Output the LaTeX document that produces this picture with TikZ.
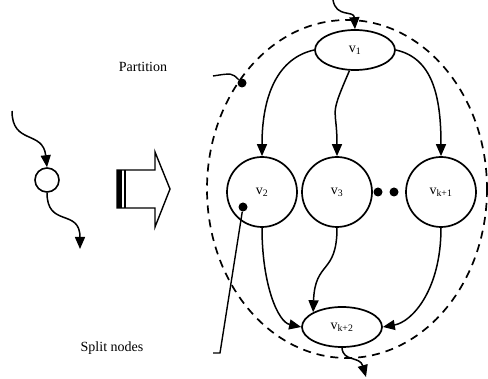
\documentclass[tikz,border=0pt]{standalone}
\usepackage{fontspec}
\setmainfont{Liberation Serif}
\usetikzlibrary{arrows.meta,shapes.geometric}
\begin{document}
\begin{tikzpicture}[x=1pt,y=-1pt,
  vert/.style={draw,circle,line width=1.7pt,minimum size=70pt,inner sep=0pt,font=\fontsize{14}{16}\selectfont},
  oval/.style={draw,ellipse,line width=1.7pt,minimum width=80pt,minimum height=40pt,inner sep=0pt,font=\fontsize{14}{16}\selectfont},
  edge/.style={line width=1.5pt,-{Triangle[length=12pt,width=10pt]}},
  dotnode/.style={circle,fill,inner sep=0pt,minimum size=9pt},
  lbl/.style={font=\fontsize{14}{16}\selectfont}]
\useasboundingbox (0,0) rectangle (488,379);
% partition boundary
\draw[line width=1.7pt,dash pattern=on 8pt off 6pt] (347,189) ellipse [x radius=140, y radius=169];
% nodes
\node[oval] (v1) at (355,50) {v\textsubscript{1}};
\node[vert] (v2) at (262,192) {v\textsubscript{2}};
\node[vert] (v3) at (337,192) {v\textsubscript{3}};
\node[vert] (vk1) at (441,192) {v\textsubscript{k+1}};
\node[oval] (vk2) at (342,327) {v\textsubscript{k+2}};
\node[dotnode] (d1) at (378,192) {};
\node[dotnode] (d2) at (394,192) {};
% edges
\coordinate (in1) at (333,0);
\draw[edge] (in1) .. controls (336,18) and (354,10) .. (v1.north);
\draw[edge] (v1.west) .. controls (278,58) and (262,95) .. (v2.north);
\draw[edge] (v1.255) .. controls (328,120) and (337,105) .. (v3.north);
\draw[edge] (v1.east) .. controls (432,58) and (441,95) .. (vk1.north);
\draw[edge] (v2.south) .. controls (262,285) and (278,322) .. (vk2.west);
\draw[edge] (v3.south) .. controls (337,275) and (315,260) .. (vk2.north west);
\draw[edge] (vk1.south) .. controls (441,290) and (412,322) .. (vk2.east);
\coordinate (out1) at (366,377);
\draw[edge] (vk2.south) .. controls (343,362) and (360,356) .. (out1);
% labels
\node[lbl] (part) at (143,67) {Partition};
\node[lbl] (split) at (112,348) {Split nodes};
\node[dotnode] (pd) at (242,83) {};
\coordinate (pp) at (213,76);
\draw[line width=1.4pt] (pp) .. controls (232,73) .. (pd);
\node[dotnode] (sd) at (243,207) {};
\coordinate (s0) at (213,353);
\coordinate (s1) at (220,353);
\draw[line width=1.4pt] (s0) -- (s1) -- (sd);
% left single node
\node[draw,circle,line width=1.6pt,minimum size=24pt,inner sep=0pt] (c) at (47,180) {};
\coordinate (li) at (12,111);
\draw[edge] (li) .. controls (12,145) and (43,130) .. (c.north);
\coordinate (lo) at (80,249);
\draw[edge] (c.south) .. controls (47,228) and (80,208) .. (lo);
% big hollow arrow
\draw[line width=1.4pt] (117,170) -- (155,170) -- (155,152) -- (170,189) -- (155,227) -- (155,208) -- (117,208) -- cycle;
\fill (117,170) rectangle (122,208);
\fill (123.5,170) rectangle (126,208);
\end{tikzpicture}
\end{document}
